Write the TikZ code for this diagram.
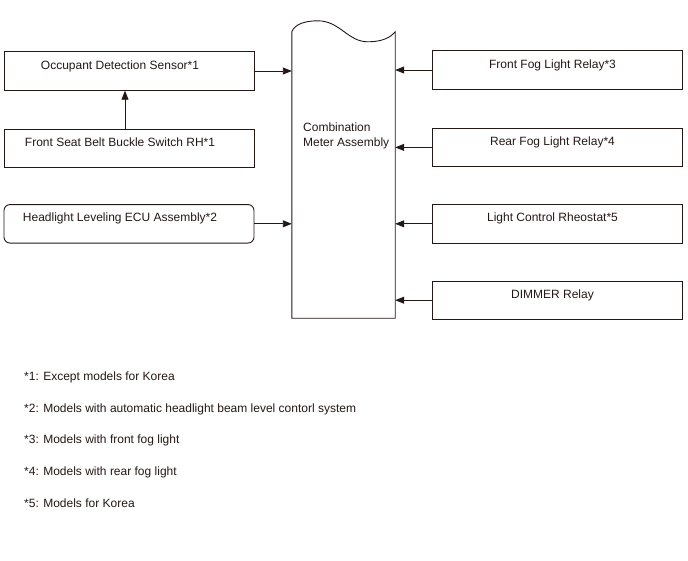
\documentclass[tikz,border=0pt]{standalone}
\usepackage{fontspec}
\setmainfont{Liberation Sans}
\usepackage{tikz}
\usetikzlibrary{arrows.meta, positioning, calc}
\definecolor{linedark}{RGB}{35,24,21}

\begin{document}
\begin{tikzpicture}[x=1pt, y=-1pt, >={Triangle[length=9pt, width=7pt]},
      font=\fontsize{12}{15}\selectfont,
      every node/.style={text=linedark},
      box/.style={draw=linedark, line width=0.9pt, minimum width=250pt,
                  minimum height=38.5pt, text height=9pt, text depth=13pt, inner sep=0pt},
      lbox/.style={box, execute at end node={\hspace{18pt}}},
      rbox/.style={box, execute at end node={\hspace{10pt}}},
      wire/.style={->, draw=linedark, line width=0.9pt},
      note/.style={anchor=base west, inner sep=0pt}]

    \useasboundingbox (0,0) rectangle (688,560);

    % left column
    \node[lbox] (occ) at (129,71) {Occupant Detection Sensor*1};
    \node[lbox, below=38pt of occ] (fsb) {Front Seat Belt Buckle Switch RH*1};
    \node[lbox, below=36pt of fsb, rounded corners=6pt] (hl) {Headlight Leveling ECU Assembly*2};

    % right column
    \node[rbox] (ffr) at (557.5,70) {Front Fog Light Relay*3};
    \node[rbox, below=38pt of ffr] (rfr) {Rear Fog Light Relay*4};
    \node[rbox, below=37pt of rfr] (rheo) {Light Control Rheostat*5};
    \node[rbox, below=37pt of rheo] (dim) {DIMMER Relay};

    % combination meter (document shape)
    \node[minimum width=103pt, minimum height=286pt, inner sep=0pt] (meter) at (343.5,175) {};
    \draw[draw=linedark, line width=0.9pt]
      (meter.south west) -- (meter.north west)
      .. controls +(3,-8) and +(-12,0) .. ++(26,-11)
      .. controls +(22,0) and +(-20,0) .. ++(50,21)
      .. controls +(14,0) and +(-5,6) .. (meter.north east)
      -- (meter.south east) -- cycle;
    \node[anchor=north west, inner sep=0pt, align=left] (metertxt) at (303,123)
      {Combination\\Meter Assembly};

    % connections
    \draw[wire] ([xshift=-4pt]fsb.north) -- ([xshift=-4pt]occ.south);
    \draw[wire] (occ.east) -- (occ.east -| meter.west);
    \draw[wire] (hl.east) -- (hl.east -| meter.west);
    \draw[wire] (ffr.west) -- (ffr.west -| meter.east);
    \draw[wire] (rfr.west) -- (rfr.west -| meter.east);
    \draw[wire] (rheo.west) -- (rheo.west -| meter.east);
    \draw[wire] (dim.west) -- (dim.west -| meter.east);

    % notes
    \node[note] (n1) at (24,380) {*1: Except models for Korea};
    \node[note] (n2) at (24,412) {*2: Models with automatic headlight beam level contorl system};
    \node[note] (n3) at (24,443) {*3: Models with front fog light};
    \node[note] (n4) at (24,475) {*4: Models with rear fog light};
    \node[note] (n5) at (24,507) {*5: Models for Korea};
  \end{tikzpicture}
\end{document}
